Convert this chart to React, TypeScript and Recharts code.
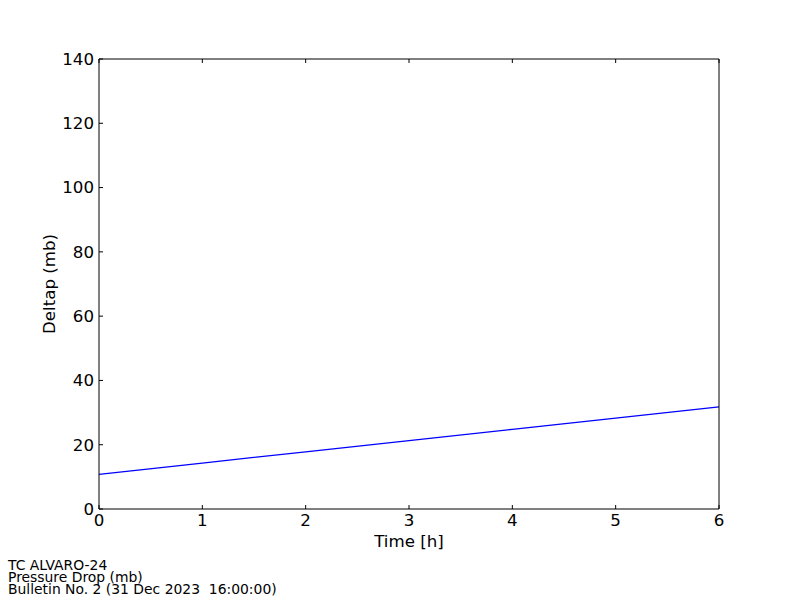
import React from 'react';
import { LineChart, Line, XAxis, YAxis } from 'recharts';

const hours = [0, 1, 2, 3, 4, 5, 6];
const deltap = [10.8, 14.3, 17.8, 21.3, 24.8, 28.3, 31.8];
const xTicks = [0, 1, 2, 3, 4, 5, 6];
const yTicks = [0, 20, 40, 60, 80, 100, 120, 140];
const notes = ['TC ALVARO-24', 'Pressure Drop (mb)', 'Bulletin No. 2 (31 Dec 2023  16:00:00)'];

const data = hours.map((h, i) => ({ t: h, v: deltap[i] }));

const font = 'DejaVu Sans, sans-serif';
const tickStyle = { fontSize: 16.67, fill: '#000', fontFamily: font };
const blank = () => '';

export default function App() {
  return (
    <div style={{ position: 'absolute', left: 0, top: 0, width: 800, height: 600, background: '#fff' }}>
      <LineChart width={800} height={600} data={data} margin={{ top: 58, right: 80, bottom: 61, left: 39 }}>
        <XAxis
          xAxisId="b"
          dataKey="t"
          type="number"
          domain={[0, 6]}
          ticks={xTicks}
          height={30}
          tickSize={4}
          tickMargin={1}
          tick={tickStyle}
          axisLine={{ stroke: '#000' }}
          tickLine={{ stroke: '#000', transform: 'translate(0,-4)' }}
          label={{ value: 'Time [h]', position: 'bottom', offset: -4, style: { fontSize: 16.67, fill: '#000', fontFamily: font } }}
        />
        <XAxis
          xAxisId="t"
          dataKey="t"
          type="number"
          orientation="top"
          domain={[0, 6]}
          ticks={xTicks}
          height={1}
          tickSize={4}
          tickFormatter={blank}
          axisLine={{ stroke: '#000' }}
          tickLine={{ stroke: '#000', transform: 'translate(0,4)' }}
        />
        <YAxis
          yAxisId="l"
          type="number"
          domain={[0, 140]}
          ticks={yTicks}
          width={60}
          tickSize={4}
          tickMargin={1}
          tick={tickStyle}
          axisLine={{ stroke: '#000' }}
          tickLine={{ stroke: '#000', transform: 'translate(4,0)' }}
          label={{ value: 'Deltap (mb)', angle: -90, position: 'insideLeft', offset: 10, style: { fontSize: 16.67, fill: '#000', fontFamily: font, textAnchor: 'middle' } }}
        />
        <YAxis
          yAxisId="r"
          type="number"
          orientation="right"
          domain={[0, 140]}
          ticks={yTicks}
          width={1}
          tickSize={4}
          tickFormatter={blank}
          axisLine={{ stroke: '#000' }}
          tickLine={{ stroke: '#000', transform: 'translate(-4,0)' }}
        />
        <Line
          xAxisId="b"
          yAxisId="l"
          dataKey="v"
          type="linear"
          stroke="#0000ff"
          strokeWidth={1.3}
          dot={false}
          activeDot={false}
          isAnimationActive={false}
        />
      </LineChart>
      <div style={{ position: 'absolute', left: 8, top: 559, fontFamily: font, fontSize: 13.9, lineHeight: '12px', color: '#000', whiteSpace: 'pre' }}>
        {notes.map((n) => (
          <div key={n}>{n}</div>
        ))}
      </div>
    </div>
  );
}
